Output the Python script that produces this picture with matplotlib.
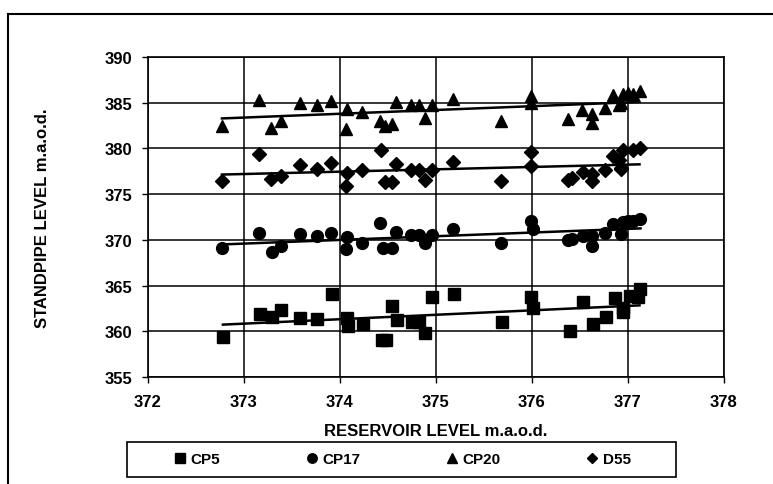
import numpy as np
import matplotlib
matplotlib.use("Agg")
import matplotlib.pyplot as plt
from matplotlib.lines import Line2D
from matplotlib.patches import Rectangle

plt.rcParams['font.family'] = ['Liberation Sans', 'DejaVu Sans']

# ---- data ----
cp5_x = [372.78, 373.17, 373.29, 373.39, 373.58, 373.76, 373.92, 374.07, 374.08, 374.24,
         374.44, 374.48, 374.54, 374.59, 374.75, 374.82, 374.89, 374.96, 375.19, 375.69,
         375.99, 376.01, 376.40, 376.53, 376.64, 376.77, 376.86, 376.95, 376.95, 377.02,
         377.10, 377.12]
cp5_y = [359.4, 361.9, 361.6, 362.3, 361.5, 361.3, 364.1, 361.5, 360.6, 360.8,
         359.1, 359.1, 362.8, 361.2, 361.0, 361.0, 359.8, 363.7, 364.1, 361.0,
         363.7, 362.6, 360.0, 363.2, 360.8, 361.6, 363.6, 362.6, 362.1, 363.9,
         363.7, 364.6]

cp17_x = [372.77, 373.16, 373.29, 373.39, 373.58, 373.76, 373.91, 374.07, 374.06, 374.23,
          374.42, 374.45, 374.54, 374.58, 374.74, 374.82, 374.89, 374.96, 375.18, 375.68,
          375.99, 376.01, 376.38, 376.42, 376.53, 376.63, 376.63, 376.76, 376.84, 376.93,
          376.95, 377.00, 377.05, 377.13]
cp17_y = [369.1, 370.7, 368.7, 369.3, 370.6, 370.4, 370.8, 370.3, 369.0, 369.7,
          371.8, 369.1, 369.1, 370.9, 370.5, 370.5, 369.7, 370.5, 371.2, 369.7,
          372.1, 371.2, 370.0, 370.1, 370.4, 369.3, 370.4, 370.8, 371.7, 370.6,
          371.9, 372.1, 372.1, 372.3]

cp20_x = [372.77, 373.16, 373.28, 373.39, 373.58, 373.76, 373.91, 374.07, 374.06, 374.23,
          374.42, 374.47, 374.54, 374.58, 374.74, 374.82, 374.89, 374.96, 375.18, 375.68,
          375.99, 375.99, 376.38, 376.52, 376.63, 376.63, 376.76, 376.84, 376.91, 376.93,
          376.95, 377.00, 377.05, 377.12]
cp20_y = [382.4, 385.3, 382.2, 383.0, 385.0, 384.8, 385.2, 384.3, 382.1, 384.0,
          383.0, 382.5, 382.7, 385.1, 384.7, 384.7, 383.3, 384.7, 385.4, 383.0,
          385.7, 385.0, 383.2, 384.2, 383.8, 382.8, 384.4, 385.8, 384.7, 385.0,
          386.0, 386.1, 386.0, 386.3]

d55_x = [372.77, 373.16, 373.28, 373.39, 373.58, 373.76, 373.91, 374.07, 374.06, 374.23,
         374.43, 374.47, 374.54, 374.58, 374.74, 374.82, 374.89, 374.96, 375.18, 375.68,
         375.99, 375.99, 376.38, 376.42, 376.53, 376.63, 376.63, 376.76, 376.84, 376.91,
         376.93, 376.95, 377.05, 377.12, 376.93]
d55_y = [376.4, 379.4, 376.7, 377.0, 378.2, 377.7, 378.4, 377.3, 375.9, 377.6,
         379.8, 376.3, 376.3, 378.3, 377.6, 377.6, 376.6, 377.6, 378.5, 376.4,
         379.6, 378.1, 376.5, 376.8, 377.4, 376.4, 377.2, 377.6, 379.2, 378.7,
         377.8, 379.8, 379.8, 380.1, 377.9]

series_names = ["CP5", "CP17", "CP20", "D55"]
x_ticks = [372, 373, 374, 375, 376, 377, 378]
y_ticks = [355, 360, 365, 370, 375, 380, 385, 390]

# ---- figure ----
W, H = 773, 485
fig = plt.figure(figsize=(W / 100, H / 100), dpi=100)
ax = fig.add_axes([148 / W, 1 - 378 / H, (724 - 148) / W, (378 - 58) / H])

series = [(cp5_x, cp5_y, 's', 8.5), (cp17_x, cp17_y, 'o', 8.5),
          (cp20_x, cp20_y, '^', 9.0), (d55_x, d55_y, 'D', 7.0)]

for (xs, ys, mk, ms), name in zip(series, series_names):
    xs = np.asarray(xs); ys = np.asarray(ys)
    ax.plot(xs, ys, linestyle='none', marker=mk, markersize=ms, color='black',
            markeredgecolor='black', label=name, zorder=3)
    k, b = np.polyfit(xs, ys, 1)
    xl = np.array([xs.min(), xs.max()])
    ax.plot(xl, k * xl + b, color='black', lw=1.8, zorder=2)

ax.set_xlim(372, 378)
ax.set_ylim(355, 390)
ax.set_xticks(x_ticks)
ax.set_yticks(y_ticks)
ax.grid(True, color='black', lw=1.1)
ax.set_axisbelow(True)
for s in ax.spines.values():
    s.set_color('black'); s.set_linewidth(1.2)
ax.tick_params(direction='out', length=4, width=1, colors='black',
               labelsize=12)
ax.tick_params(axis='x', pad=8)
ax.tick_params(axis='y', pad=7)
for lab in ax.get_xticklabels() + ax.get_yticklabels():
    lab.set_fontweight('bold')

fig.text(436 / W, 1 - 432 / H, "RESERVOIR LEVEL m.a.o.d.", fontsize=12,
         fontweight='bold', ha='center', va='center')
fig.text(43 / W, 1 - 218 / H, "STANDPIPE LEVEL m.a.o.d.", fontsize=12,
         fontweight='bold', ha='center', va='center', rotation=90)

# legend
lx0, lx1, ly0, ly1 = 127, 676, 443, 478
fig.add_artist(Rectangle((lx0 / W, 1 - ly1 / H), (lx1 - lx0) / W, (ly1 - ly0) / H,
                         transform=fig.transFigure, fill=False, edgecolor='black', lw=1.2))
handles = [Line2D([], [], linestyle='none', marker=m, markersize=ms * 0.8, color='black')
           for (_, _, m, ms) in series]
leg = fig.legend(handles, series_names, ncol=4, loc='center',
                 bbox_to_anchor=((lx0 + lx1) / 2 / W, 1 - (ly0 + ly1) / 2 / H),
                 frameon=False, handletextpad=0.2, handlelength=1.0,
                 columnspacing=5.5, borderaxespad=0,
                 prop={'weight': 'bold', 'size': 11})

# outer frame
fig.add_artist(Line2D([8 / W, 1], [1 - 15 / H, 1 - 15 / H], color='black', lw=1.5,
                      transform=fig.transFigure))
fig.add_artist(Line2D([8 / W, 8 / W], [0, 1 - 15 / H], color='black', lw=1.5,
                      transform=fig.transFigure))

fig.savefig("out.png", dpi=100)
